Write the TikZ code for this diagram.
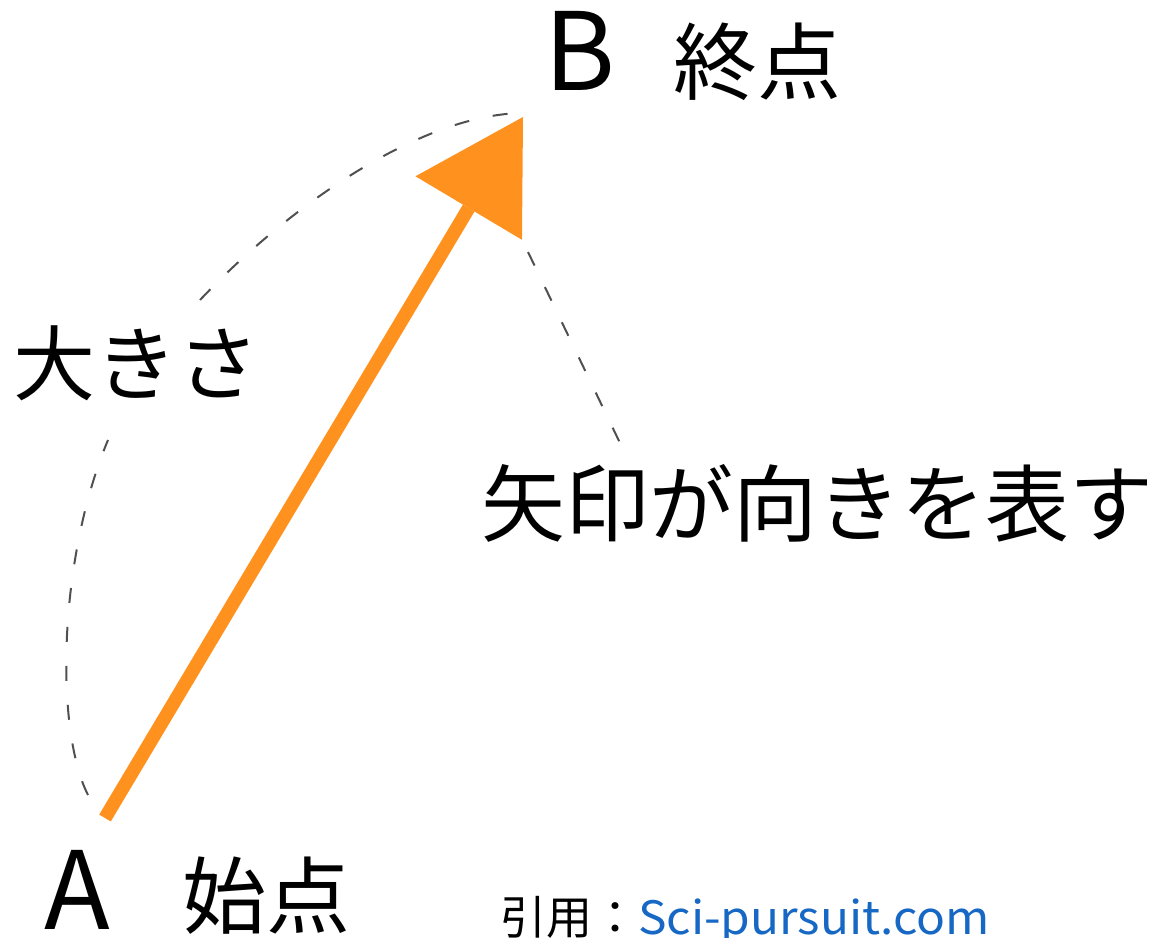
\documentclass[tikz,border=0pt]{standalone}
\usepackage{fontspec}
\setmainfont{Noto Sans CJK JP}
\usetikzlibrary{arrows.meta}
\definecolor{vecorange}{RGB}{255,146,30}
\definecolor{dashgray}{RGB}{80,80,80}
\definecolor{linkblue}{RGB}{22,104,196}
\tikzset{
  lbl/.style={inner sep=0pt, text=black},
  guide/.style={draw=dashgray, line width=2pt, dash pattern=on 15pt off 24pt},
  vec/.style={draw=vecorange, line width=13.5pt,
    -{Triangle[length=106pt,width=124pt,line width=0pt]}},
}
\begin{document}
\begin{tikzpicture}[x=1pt,y=-1pt]
\useasboundingbox (0,0) rectangle (1155,937);
% points
\coordinate (start) at (105,818);
\coordinate (tip) at (523,117);
\coordinate (lowA) at (88,795);
\coordinate (lowB) at (108,440);
\coordinate (upA) at (200,300);
\coordinate (upB) at (522,113);
\coordinate (dirA) at (528,252);
\coordinate (dirB) at (620,443);
% labels
\node[lbl, font=\fontsize{108}{116}\selectfont] (labB) at (580,51) {B};
\node[lbl, font=\fontsize{84}{90}\selectfont] (labEnd) at (757,62) {終点};
\node[lbl, font=\fontsize{108}{116}\selectfont] (labA) at (77,890) {A};
\node[lbl, font=\fontsize{84}{90}\selectfont] (labStart) at (266,896) {始点};
\node[lbl, font=\fontsize{82}{90}\selectfont] (labSize) at (136,363) {大きさ};
\node[lbl, font=\fontsize{84}{90}\selectfont] (labDir) at (817,503) {矢印が向きを表す};
\node[lbl, anchor=base west, font=\fontsize{46}{50}\selectfont] (cite) at (500,934)
  {引用：\textcolor{linkblue}{\addfontfeatures{FakeStretch=1.04}Sci-pursuit.com}};
% dashed guides
\draw[guide] (lowA) .. controls (55,730) and (58,560) .. (lowB);
\draw[guide] (upA) .. controls (290,205) and (420,115) .. (upB);
\draw[guide] (dirA) -- (dirB);
% vector
\draw[vec] (start) -- (tip);
\end{tikzpicture}
\end{document}
